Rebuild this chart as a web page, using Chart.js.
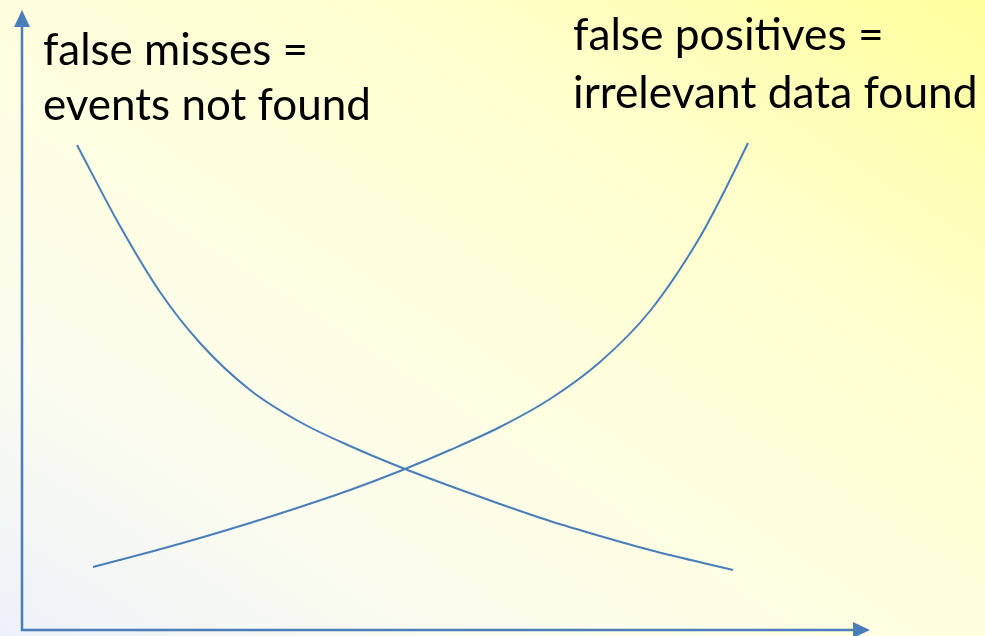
<!DOCTYPE html>
<html>
<head>
<meta charset="utf-8">
<script src="https://cdn.jsdelivr.net/npm/chart.js@4.4.1/dist/chart.umd.min.js"></script>
<style>
    html, body {
        margin: 0;
        padding: 0;
    }
    body {
        width: 985px;
        height: 636px;
        overflow: hidden;
        background: linear-gradient(to top right, #edf1fa 0%, #fbfcef 22%, #ffffe2 45%, #ffffcc 72%, #ffff9c 100%);
    }
    canvas {
        display: block;
    }
</style>
</head>
<body>
<canvas id="tradeoff" width="985" height="636"></canvas>
<script>
    // values (x to the right, y up from the x axis)
    var missesX = [55, 98, 138, 178, 228, 278, 328, 378, 428, 478, 528, 578, 628, 711];
    var missesY = [485, 404, 338, 287, 240, 208, 184, 163, 144, 126, 109, 94, 80, 60];
    var positivesX = [71, 128, 178, 228, 278, 328, 378, 428, 478, 528, 578, 628, 678, 703, 726];
    var positivesY = [63, 78, 92, 107, 123, 140, 159, 180, 203, 231, 268, 319, 393, 440, 487];

    var missesLabel = ["false misses =", "events not found"];
    var positivesLabel = ["false positives =", "irrelevant data found"];

    var lineColor = "#4a7ebb";

    function toPoints(xs, ys) {
        var pts = [];
        for (var i = 0; i < xs.length; i++) {
            pts.push({x: xs[i], y: ys[i]});
        }
        return pts;
    }

    // Axes with arrow heads
    var arrowAxes = {
        id: "arrowAxes",
        beforeDatasetsDraw: function (chart) {
            var ctx = chart.ctx;
            var a = chart.chartArea;
            ctx.save();
            ctx.strokeStyle = lineColor;
            ctx.fillStyle = lineColor;
            ctx.lineWidth = 2.5;
            ctx.beginPath();
            ctx.moveTo(a.left, a.top + 15);
            ctx.lineTo(a.left, a.bottom);
            ctx.lineTo(a.right - 16, a.bottom);
            ctx.stroke();
            ctx.beginPath();
            ctx.moveTo(a.left, a.top);
            ctx.lineTo(a.left - 8, a.top + 17);
            ctx.lineTo(a.left + 8, a.top + 17);
            ctx.closePath();
            ctx.fill();
            ctx.beginPath();
            ctx.moveTo(a.right, a.bottom);
            ctx.lineTo(a.right - 17, a.bottom - 8);
            ctx.lineTo(a.right - 17, a.bottom + 8);
            ctx.closePath();
            ctx.fill();
            ctx.restore();
        }
    };

    // Two-line labels, sized so the longest line has the width seen in the picture
    function drawBlock(ctx, lines, left, baselines, width) {
        var longest = lines[0];
        for (var i = 1; i < lines.length; i++) {
            if (lines[i].length > longest.length) longest = lines[i];
        }
        ctx.font = "100px Lato";
        var size = 100 * width / ctx.measureText(longest).width;
        ctx.font = size.toFixed(1) + "px Lato";
        for (var j = 0; j < lines.length; j++) {
            ctx.fillText(lines[j], left, baselines[j]);
        }
    }

    var labels = {
        id: "labels",
        afterDraw: function (chart) {
            var ctx = chart.ctx;
            ctx.save();
            ctx.fillStyle = "#000000";
            ctx.textBaseline = "alphabetic";
            ctx.textAlign = "left";
            drawBlock(ctx, missesLabel, 43, [65, 120], 328);
            drawBlock(ctx, positivesLabel, 573, [50, 108], 405);
            ctx.restore();
        }
    };

    var ctx1 = document.getElementById("tradeoff").getContext("2d");
    var myChart1 = new Chart(ctx1, {
        type: "line",
        data: {
            datasets: [{
                    label: "false misses",
                    data: toPoints(missesX, missesY),
                    borderColor: lineColor,
                    borderWidth: 2,
                    pointRadius: 0,
                    cubicInterpolationMode: "monotone",
                    fill: false
                },
                {
                    label: "false positives",
                    data: toPoints(positivesX, positivesY),
                    borderColor: lineColor,
                    borderWidth: 2,
                    pointRadius: 0,
                    cubicInterpolationMode: "monotone",
                    fill: false
                }
            ]
        },
        options: {
            responsive: false,
            animation: false,
            layout: {
                padding: {left: 22, right: 115, top: 10, bottom: 6}
            },
            scales: {
                x: {type: "linear", min: 0, max: 848, display: false},
                y: {type: "linear", min: 0, max: 620, display: false}
            },
            plugins: {
                legend: {display: false},
                tooltip: {enabled: false}
            }
        },
        plugins: [arrowAxes, labels]
    });
</script>
</body>
</html>
